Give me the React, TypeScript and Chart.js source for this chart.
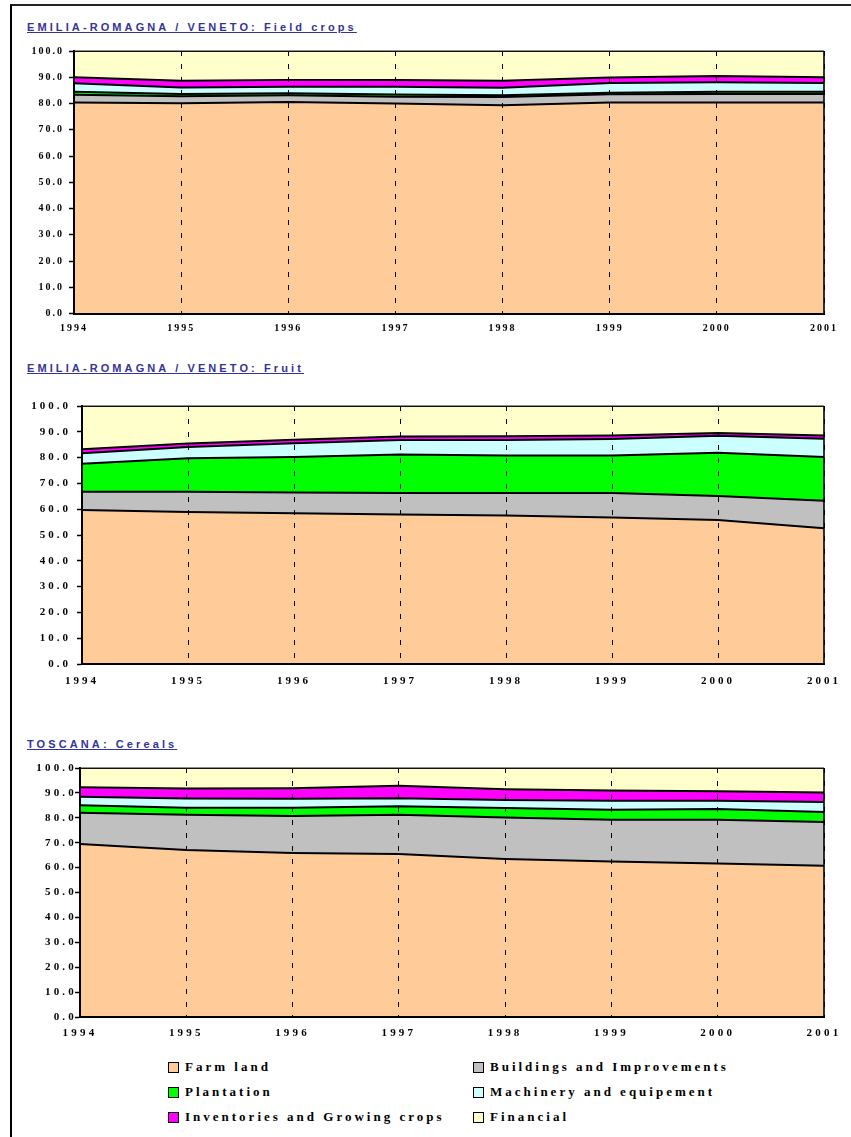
import React, { useEffect, useRef } from 'react';
import { Chart, registerables } from 'chart.js';

Chart.register(...registerables);

const years = ['1994', '1995', '1996', '1997', '1998', '1999', '2000', '2001'];

const seriesNames = [
  'Farm land',
  'Buildings and Improvements',
  'Plantation',
  'Machinery and equipement',
  'Inventories and Growing crops',
  'Financial',
];

const seriesColors = ['#FFCC99', '#C0C0C0', '#00FF00', '#CCFFFF', '#FF00FF', '#FFFFCC'];

// EMILIA-ROMAGNA / VENETO: Field crops
const fieldFarmLand = [80.4, 80.1, 80.6, 80.0, 79.3, 80.4, 80.4, 80.4];
const fieldBuildings = [2.9, 2.7, 2.5, 2.6, 3.2, 3.1, 3.2, 3.2];
const fieldPlantation = [1.2, 0.8, 0.8, 0.8, 0.6, 0.6, 0.9, 0.9];
const fieldMachinery = [3.2, 2.5, 2.5, 3.0, 2.9, 3.7, 3.6, 3.3];
const fieldInventories = [2.3, 2.6, 2.6, 2.6, 2.7, 2.1, 2.4, 2.2];
const fieldFinancial = [10.0, 11.3, 11.0, 11.0, 11.3, 10.1, 9.5, 10.0];

// EMILIA-ROMAGNA / VENETO: Fruit
const fruitFarmLand = [59.7, 58.9, 58.4, 57.9, 57.6, 56.8, 55.8, 52.6];
const fruitBuildings = [7.1, 7.9, 8.1, 8.4, 8.7, 9.5, 9.3, 10.7];
const fruitPlantation = [10.8, 12.9, 13.7, 14.9, 14.5, 14.5, 16.8, 16.9];
const fruitMachinery = [4.1, 4.4, 5.4, 5.6, 6.0, 6.4, 6.6, 7.1];
const fruitInventories = [1.5, 1.4, 1.3, 1.4, 1.5, 1.4, 1.0, 1.3];
const fruitFinancial = [16.8, 14.5, 13.1, 11.8, 11.7, 11.4, 10.5, 11.4];

// TOSCANA: Cereals
const cerealFarmLand = [69.5, 67.1, 65.9, 65.5, 63.5, 62.4, 61.6, 60.7];
const cerealBuildings = [12.5, 14.1, 14.8, 15.7, 16.6, 16.8, 17.6, 17.6];
const cerealPlantation = [3.0, 2.8, 3.3, 3.4, 3.8, 4.0, 4.3, 4.0];
const cerealMachinery = [3.5, 3.8, 3.7, 3.3, 3.2, 3.6, 3.3, 4.0];
const cerealInventories = [3.8, 4.0, 4.2, 5.0, 4.4, 4.2, 3.9, 3.9];
const cerealFinancial = [7.7, 8.2, 8.1, 7.1, 8.5, 9.0, 9.3, 9.8];

const yTickValues = [0, 10, 20, 30, 40, 50, 60, 70, 80, 90, 100];

type PanelCfg = {
  title: string;
  titleTop: number;
  canvasTop: number;
  canvasHeight: number;
  areaLeft: number;
  areaTop: number;
  areaBottom: number;
  series: number[][];
  fontSize: number;
  spacing: number;
  yPad: number;
  xPad: number;
  tickLen: number;
};

const CANVAS_LEFT = 20;
const CANVAS_WIDTH = 830;
const AREA_RIGHT = 824;
const X_AXIS_H = 22;

const panels: PanelCfg[] = [
  {
    title: 'EMILIA-ROMAGNA / VENETO: Field crops',
    titleTop: 21,
    canvasTop: 40,
    canvasHeight: 300,
    areaLeft: 74,
    areaTop: 49.3,
    areaBottom: 313.5,
    series: [fieldFarmLand, fieldBuildings, fieldPlantation, fieldMachinery, fieldInventories, fieldFinancial],
    fontSize: 10,
    spacing: 2,
    yPad: 5,
    xPad: 9,
    tickLen: 5,
  },
  {
    title: 'EMILIA-ROMAGNA / VENETO: Fruit',
    titleTop: 362,
    canvasTop: 390,
    canvasHeight: 310,
    areaLeft: 82,
    areaTop: 406,
    areaBottom: 664,
    series: [fruitFarmLand, fruitBuildings, fruitPlantation, fruitMachinery, fruitInventories, fruitFinancial],
    fontSize: 11,
    spacing: 3,
    yPad: 6,
    xPad: 11,
    tickLen: 5,
  },
  {
    title: 'TOSCANA: Cereals',
    titleTop: 738,
    canvasTop: 755,
    canvasHeight: 290,
    areaLeft: 80,
    areaTop: 768,
    areaBottom: 1017,
    series: [cerealFarmLand, cerealBuildings, cerealPlantation, cerealMachinery, cerealInventories, cerealFinancial],
    fontSize: 11,
    spacing: 3.2,
    yPad: -2,
    xPad: 10,
    tickLen: 5,
  },
];

function Panel({ cfg }: { cfg: PanelCfg }) {
  const ref = useRef<HTMLCanvasElement>(null);

  useEffect(() => {
    if (!ref.current) return;
    const font = {
      family: "'Liberation Serif', 'Times New Roman', serif",
      size: cfg.fontSize,
      weight: 'bold' as const,
    };
    const spacingPlugin = {
      id: 'letterSpacing',
      beforeDraw(chart: any) {
        chart.ctx.letterSpacing = cfg.spacing + 'px';
      },
    };
    const framePlugin = {
      id: 'plotFrame',
      afterDraw(chart: any) {
        const { left, top, right, bottom } = chart.chartArea;
        const ctx = chart.ctx;
        ctx.save();
        ctx.strokeStyle = '#222';
        ctx.lineWidth = 1.2;
        ctx.beginPath();
        ctx.moveTo(left, top);
        ctx.lineTo(right, top);
        ctx.stroke();
        ctx.strokeStyle = '#000';
        ctx.lineWidth = 1.6;
        ctx.beginPath();
        ctx.moveTo(right, top);
        ctx.lineTo(right, bottom);
        ctx.stroke();
        ctx.restore();
      },
    };

    const padTop = cfg.areaTop - cfg.canvasTop;
    const padBottom = cfg.canvasHeight - (cfg.areaBottom - cfg.canvasTop) - X_AXIS_H;
    const padRight = CANVAS_LEFT + CANVAS_WIDTH - AREA_RIGHT;
    const yWidth = cfg.areaLeft - CANVAS_LEFT;

    const chart = new Chart(ref.current, {
      type: 'line',
      data: {
        labels: years,
        datasets: cfg.series.map((data, i) => ({
          label: seriesNames[i],
          data,
          backgroundColor: seriesColors[i],
          borderColor: '#000',
          borderWidth: 2,
          fill: i === 0 ? 'origin' : '-1',
          pointRadius: 0,
          pointHoverRadius: 0,
          tension: 0,
        })),
      },
      options: {
        animation: false,
        responsive: false,
        maintainAspectRatio: false,
        events: [],
        layout: { padding: { left: 0, right: padRight, top: padTop, bottom: padBottom } },
        plugins: {
          legend: { display: false },
          tooltip: { enabled: false },
          title: { display: false },
        },
        scales: {
          x: {
            type: 'category',
            offset: false,
            afterFit(scale: any) {
              scale.height = X_AXIS_H;
            },
            grid: {
              display: true,
              drawOnChartArea: true,
              drawTicks: false,
              color: '#000',
              lineWidth: 1,
              z: 1,
            },
            border: { display: true, color: '#000', width: 2, dash: [5, 8], z: 1 },
            ticks: {
              color: '#000',
              font,
              padding: cfg.xPad,
              maxRotation: 0,
              autoSkip: false,
            },
          },
          y: {
            type: 'linear',
            stacked: true,
            min: 0,
            max: 100,
            afterFit(scale: any) {
              scale.width = yWidth;
            },
            afterBuildTicks(scale: any) {
              scale.ticks = yTickValues.map((v) => ({ value: v }));
            },
            grid: {
              display: true,
              drawOnChartArea: false,
              drawTicks: true,
              tickLength: cfg.tickLen,
              tickColor: '#000',
              tickWidth: 1.5,
              z: 1,
            },
            border: { display: true, color: '#000', width: 2, z: 1 },
            ticks: {
              color: '#000',
              font,
              padding: cfg.yPad,
              callback: (v: any) => Number(v).toFixed(1),
            },
          },
        },
      },
      plugins: [spacingPlugin, framePlugin],
    });
    return () => chart.destroy();
  }, [cfg]);

  return (
    <>
      <div
        style={{
          position: 'absolute',
          left: 27,
          top: cfg.titleTop,
          fontFamily: "'Liberation Sans', Arial, sans-serif",
          fontWeight: 'bold',
          fontSize: 11,
          lineHeight: '12px',
          letterSpacing: '3.1px',
          color: '#333399',
          textDecoration: 'underline',
          whiteSpace: 'nowrap',
        }}
      >
        {cfg.title}
      </div>
      <canvas
        ref={ref}
        width={CANVAS_WIDTH}
        height={cfg.canvasHeight}
        style={{
          position: 'absolute',
          left: CANVAS_LEFT,
          top: cfg.canvasTop,
          width: CANVAS_WIDTH,
          height: cfg.canvasHeight,
        }}
      />
    </>
  );
}

export default function App() {
  const legendRows = [1067, 1092, 1117];
  const legendCols = [168, 473];
  return (
    <div
      style={{
        position: 'absolute',
        left: 0,
        top: 0,
        width: 851,
        height: 1137,
        overflow: 'hidden',
        background: '#fff',
      }}
    >
      <div
        style={{
          position: 'absolute',
          left: 10,
          top: 4,
          width: 900,
          height: 1200,
          borderLeft: '2px solid #000',
          borderTop: '2px solid #222',
        }}
      />
      {panels.map((p, i) => (
        <Panel key={i} cfg={p} />
      ))}
      {seriesNames.map((name, i) => {
        const col = i % 2;
        const row = Math.floor(i / 2);
        const cy = legendRows[row];
        const x = legendCols[col];
        return (
          <div key={name}>
            <div
              style={{
                position: 'absolute',
                left: x,
                top: cy - 5,
                width: 9,
                height: 9,
                border: '1px solid #000',
                background: seriesColors[i],
              }}
            />
            <div
              style={{
                position: 'absolute',
                left: x + 17,
                top: cy - 8,
                fontFamily: "'Liberation Serif', 'Times New Roman', serif",
                fontWeight: 'bold',
                fontSize: 13,
                lineHeight: '16px',
                letterSpacing: '3px',
                color: '#000',
                whiteSpace: 'nowrap',
              }}
            >
              {name}
            </div>
          </div>
        );
      })}
    </div>
  );
}
